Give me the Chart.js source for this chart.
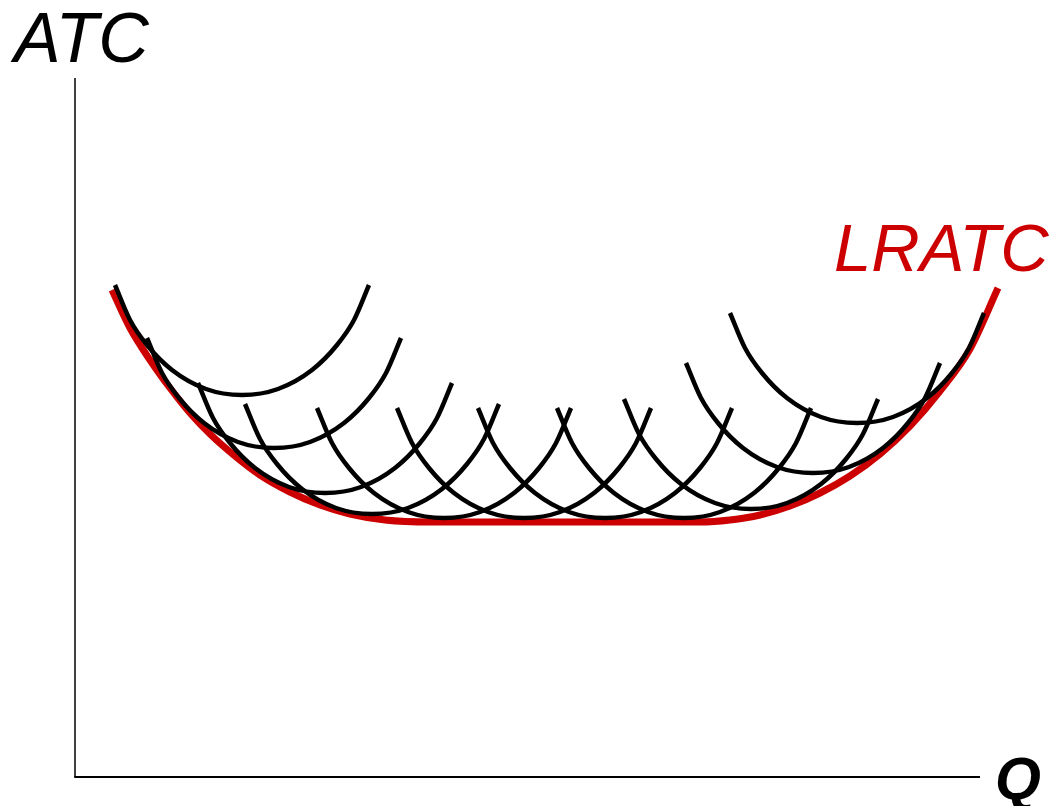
<!DOCTYPE html>
<html>
<head>
<meta charset="utf-8">
<script src="https://cdn.jsdelivr.net/npm/chart.js@4.4.1/dist/chart.umd.min.js"></script>
<style>
  html, body { margin: 0; padding: 0; background: #fff; }
  #wrap { width: 1055px; height: 806px; position: relative; }
</style>
</head>
<body>
<div id="wrap"><canvas id="costChart"></canvas></div>
<script>
// Quantity runs 0..905 along the Q axis, cost 0..699 up the ATC axis.
const qMax = 905;
const atcMax = 699;

// Short-run ATC curves, left to right, as [Q, ATC] points
const sratc1 = [[40,492],[55,457],[72,432],[97,407],[131,388],[167,382],[203,388],[237,407],[262,432],[279,457],[294,492]];
const sratc2 = [[72,439],[87,404],[104,379],[129,354],[163,335],[199,329],[235,335],[269,354],[294,379],[311,404],[326,439]];
const sratc3 = [[123,394],[138,359],[155,334],[180,309],[214,290],[250,284],[286,290],[320,309],[345,334],[362,359],[377,394]];
const sratc4 = [[170,373],[185,338],[202,313],[227,288],[261,269],[297,263],[333,269],[367,288],[392,313],[409,338],[424,373]];
const sratc5 = [[242,369],[257,334],[274,309],[299,284],[333,265],[369,259],[405,265],[439,284],[464,309],[481,334],[496,369]];
const sratc6 = [[322,369],[337,334],[354,309],[379,284],[413,265],[449,259],[485,265],[519,284],[544,309],[561,334],[576,369]];
const sratc7 = [[403,369],[418,334],[435,309],[460,284],[494,265],[530,259],[566,265],[600,284],[625,309],[642,334],[657,369]];
const sratc8 = [[482,369],[497,334],[514,309],[539,284],[573,265],[609,259],[645,265],[679,284],[704,309],[721,334],[736,369]];
const sratc9 = [[549,378],[564,343],[581,318],[606,293],[640,274],[676,268],[712,274],[746,293],[771,318],[788,343],[803,378]];
const sratc10 = [[611,414],[626,379],[643,354],[668,329],[702,310],[738,304],[774,310],[808,329],[833,354],[850,379],[865,414]];
const sratc11 = [[655,464],[670,429],[687,404],[712,379],[746,360],[782,354],[818,360],[852,379],[877,404],[894,429],[909,464]];

// Long-run ATC envelope
const lratc = [[37,487],[55,449],[75,417],[95,389],[115,364],[135,343],[160,321],[185,302],[215,285],[245,272],
               [275,263],[310,257],[355,255],
               [625,255],[655,257],[685,262],[715,271],[745,284],[775,301],[805,323],[835,351],[865,386],[895,428],[923,489]];

const toPoints = arr => arr.map(p => ({ x: p[0], y: p[1] }));

const shortRun = [sratc1, sratc2, sratc3, sratc4, sratc5, sratc6, sratc7, sratc8, sratc9, sratc10, sratc11];

const datasets = shortRun.map((curve, i) => ({
  label: 'SRATC ' + (i + 1),
  data: toPoints(curve),
  borderColor: '#000',
  borderWidth: 4.5,
  borderCapStyle: 'butt',
  cubicInterpolationMode: 'monotone',
  pointRadius: 0,
  fill: false,
  clip: false
}));

datasets.push({
  label: 'LRATC',
  data: toPoints(lratc),
  borderColor: '#cc0000',
  borderWidth: 7,
  borderCapStyle: 'butt',
  cubicInterpolationMode: 'monotone',
  pointRadius: 0,
  fill: false,
  clip: false
});

// axes and the three labels
const axesPlugin = {
  id: 'axesPlugin',
  beforeDatasetsDraw(chart) {
    const { ctx, chartArea } = chart;
    ctx.save();
    ctx.strokeStyle = '#000';
    ctx.lineWidth = 1.5;
    ctx.beginPath();
    ctx.moveTo(chartArea.left, chartArea.top);
    ctx.lineTo(chartArea.left, chartArea.bottom);
    ctx.stroke();
    ctx.lineWidth = 2;
    ctx.beginPath();
    ctx.moveTo(chartArea.left - 0.75, chartArea.bottom);
    ctx.lineTo(chartArea.right, chartArea.bottom);
    ctx.stroke();
    ctx.restore();
  },
  afterDraw(chart) {
    const ctx = chart.ctx;
    ctx.save();
    ctx.textBaseline = 'alphabetic';
    ctx.textAlign = 'left';
    ctx.fillStyle = '#000';
    ctx.font = 'italic 70px "Liberation Sans", Arial, sans-serif';
    ctx.fillText('ATC', 14, 62);
    ctx.font = 'italic bold 59px "Liberation Sans", Arial, sans-serif';
    ctx.fillText('Q', 995, 799);
    ctx.fillStyle = '#cc0000';
    ctx.font = 'italic 67px "Liberation Sans", Arial, sans-serif';
    ctx.fillText('LRATC', 834, 271);
    ctx.restore();
  }
};

new Chart(document.getElementById('costChart'), {
  type: 'line',
  data: { datasets: datasets },
  options: {
    responsive: true,
    maintainAspectRatio: false,
    animation: false,
    layout: { padding: { left: 75, top: 78, right: 75, bottom: 29 } },
    plugins: {
      legend: { display: false },
      tooltip: { enabled: false }
    },
    scales: {
      x: { type: 'linear', min: 0, max: qMax, display: false },
      y: { type: 'linear', min: 0, max: atcMax, display: false }
    }
  },
  plugins: [axesPlugin]
});
</script>
</body>
</html>
